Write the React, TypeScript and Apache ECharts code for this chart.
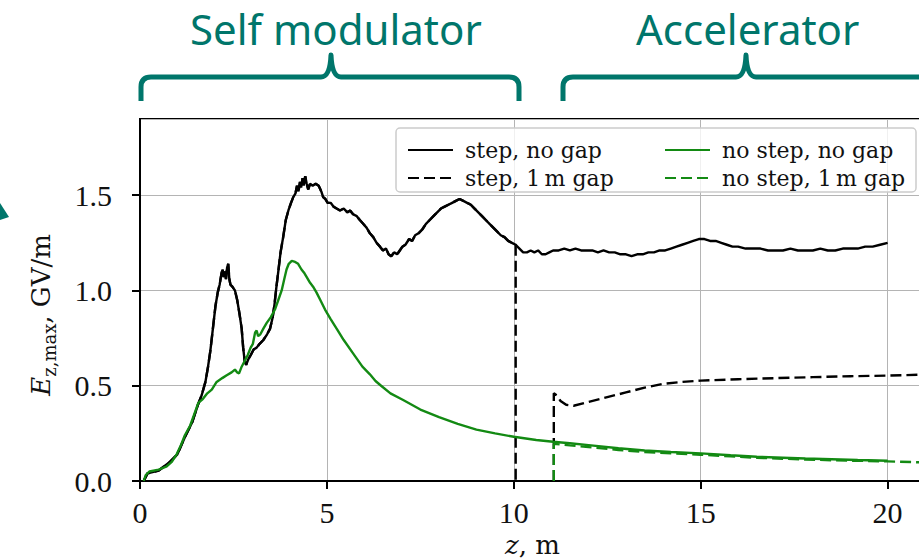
import React, { useEffect, useRef } from 'react';
import * as echarts from 'echarts';

// z [m], E [GV/m]
const stepNoGap: [number, number][] = [
  [0.1, 0], [0.2, 0.04], [0.5, 0.055], [0.8, 0.1], [1.0, 0.14], [1.2, 0.23], [1.4, 0.31], [1.55, 0.4],
  [1.65, 0.45], [1.75, 0.52], [1.82, 0.6], [1.88, 0.68], [1.95, 0.8], [2.02, 0.92], [2.08, 0.99],
  [2.13, 1.03], [2.18, 1.09], [2.21, 1.11], [2.24, 1.07], [2.27, 1.1], [2.3, 1.06], [2.33, 1.12],
  [2.36, 1.14], [2.39, 1.06], [2.42, 1.03], [2.47, 1.02], [2.54, 1.0], [2.6, 0.95], [2.66, 0.88],
  [2.72, 0.8], [2.76, 0.7], [2.8, 0.63], [2.84, 0.61], [2.9, 0.64], [2.96, 0.66], [3.04, 0.69],
  [3.12, 0.7], [3.2, 0.72], [3.3, 0.74], [3.4, 0.77], [3.48, 0.8], [3.55, 0.86], [3.6, 0.93],
  [3.65, 1.02], [3.7, 1.1], [3.76, 1.2], [3.83, 1.28], [3.9, 1.37], [3.97, 1.42], [4.04, 1.46],
  [4.1, 1.49], [4.16, 1.51], [4.2, 1.55], [4.24, 1.52], [4.28, 1.57], [4.31, 1.54], [4.35, 1.59],
  [4.38, 1.55], [4.42, 1.6], [4.46, 1.56], [4.5, 1.53], [4.55, 1.56], [4.62, 1.55], [4.7, 1.56],
  [4.78, 1.55], [4.85, 1.52], [4.9, 1.49], [4.96, 1.48], [5.02, 1.46], [5.1, 1.46], [5.18, 1.44],
  [5.26, 1.43], [5.35, 1.42], [5.45, 1.43], [5.55, 1.41], [5.62, 1.42], [5.7, 1.4], [5.8, 1.39],
  [5.88, 1.37], [5.97, 1.35], [6.06, 1.33], [6.15, 1.3], [6.24, 1.28], [6.33, 1.25], [6.42, 1.23],
  [6.5, 1.21], [6.58, 1.22], [6.65, 1.19], [6.72, 1.18], [6.8, 1.2], [6.88, 1.19], [6.95, 1.21],
  [7.02, 1.23], [7.1, 1.24], [7.2, 1.27], [7.28, 1.26], [7.36, 1.29], [7.45, 1.3], [7.55, 1.32],
  [7.65, 1.35], [7.75, 1.37], [7.85, 1.39], [7.95, 1.41], [8.05, 1.43], [8.15, 1.44], [8.25, 1.45],
  [8.35, 1.46], [8.45, 1.47], [8.55, 1.48], [8.65, 1.47], [8.75, 1.46], [8.85, 1.45], [8.95, 1.43],
  [9.05, 1.41], [9.15, 1.39], [9.25, 1.37], [9.35, 1.35], [9.45, 1.33], [9.55, 1.31], [9.65, 1.29],
  [9.75, 1.28], [9.85, 1.26], [9.95, 1.25], [10.05, 1.24], [10.15, 1.22], [10.25, 1.2], [10.35, 1.2],
  [10.45, 1.21], [10.55, 1.2], [10.65, 1.21], [10.75, 1.19], [10.85, 1.19], [10.95, 1.2], [11.05, 1.21],
  [11.2, 1.21], [11.35, 1.22], [11.5, 1.21], [11.65, 1.22], [11.8, 1.21], [11.95, 1.21], [12.1, 1.21],
  [12.25, 1.2], [12.4, 1.21], [12.55, 1.2], [12.7, 1.2], [12.85, 1.19], [13.0, 1.19], [13.15, 1.18],
  [13.3, 1.19], [13.45, 1.19], [13.6, 1.2], [13.75, 1.2], [13.9, 1.21], [14.05, 1.21], [14.2, 1.22],
  [14.35, 1.23], [14.5, 1.24], [14.65, 1.25], [14.8, 1.26], [14.95, 1.27], [15.1, 1.27], [15.25, 1.26],
  [15.4, 1.26], [15.55, 1.25], [15.7, 1.24], [15.85, 1.23], [16.0, 1.23], [16.2, 1.22], [16.4, 1.22],
  [16.6, 1.22], [16.8, 1.21], [17.0, 1.21], [17.2, 1.21], [17.4, 1.22], [17.6, 1.21], [17.8, 1.21],
  [18.0, 1.21], [18.2, 1.22], [18.4, 1.21], [18.6, 1.21], [18.8, 1.22], [19.0, 1.22], [19.2, 1.22],
  [19.4, 1.23], [19.6, 1.23], [19.8, 1.24], [20.0, 1.25],
];

// step, 1 m gap: after the drop at the gap (null = no field plotted inside the gap)
const stepGapAfter: [number, number | null][] = [
  [10.05, 0], [10.5, null], [11.07, 0], [11.07, 0.46], [11.15, 0.45], [11.25, 0.42], [11.4, 0.4], [11.6, 0.395],
  [12.0, 0.415], [12.5, 0.44], [13.0, 0.465], [13.5, 0.49], [14.0, 0.51], [14.5, 0.52], [15.0, 0.527],
  [16.0, 0.534], [17.0, 0.54], [18.0, 0.545], [19.0, 0.55], [20.0, 0.553], [20.9, 0.558],
];

const noStepNoGap: [number, number][] = [
  [0.1, 0], [0.15, 0.03], [0.25, 0.05], [0.5, 0.06], [0.7, 0.075], [0.85, 0.1], [0.98, 0.14],
  [1.1, 0.19], [1.2, 0.24], [1.34, 0.29], [1.45, 0.35], [1.56, 0.41], [1.68, 0.43], [1.8, 0.46],
  [1.92, 0.48], [2.05, 0.52], [2.2, 0.54], [2.32, 0.555], [2.45, 0.57], [2.54, 0.585], [2.6, 0.57],
  [2.65, 0.565], [2.72, 0.6], [2.8, 0.63], [2.88, 0.66], [2.96, 0.7], [3.02, 0.72], [3.08, 0.78],
  [3.12, 0.79], [3.16, 0.76], [3.22, 0.77], [3.3, 0.8], [3.39, 0.83], [3.5, 0.86], [3.61, 0.9],
  [3.7, 0.95], [3.79, 1.0], [3.86, 1.06], [3.92, 1.11], [3.98, 1.14], [4.06, 1.155], [4.15, 1.15],
  [4.23, 1.14], [4.32, 1.11], [4.4, 1.09], [4.46, 1.07], [4.55, 1.04], [4.63, 1.02], [4.72, 0.99],
  [4.81, 0.955], [4.95, 0.9], [5.1, 0.85], [5.26, 0.8], [5.45, 0.74], [5.7, 0.67], [5.95, 0.6],
  [6.15, 0.56], [6.3, 0.525], [6.45, 0.5], [6.7, 0.46], [7.04, 0.425], [7.5, 0.375], [8.0, 0.335],
  [8.5, 0.3], [9.0, 0.27], [9.5, 0.25], [10.0, 0.232], [10.6, 0.215], [11.05, 0.206], [11.5, 0.198],
  [12.0, 0.188], [12.8, 0.172], [13.5, 0.16], [14.2, 0.152], [15.0, 0.145], [15.8, 0.135],
  [16.5, 0.127], [17.2, 0.122], [17.8, 0.118], [18.5, 0.114], [19.2, 0.11], [20.0, 0.106],
];

// no step, 1 m gap: visible part after the gap (before it, it lies under the solid green line)
const noStepGapAfter: [number, number][] = [
  [11.07, 0], [11.07, 0.195], [11.5, 0.187], [12.0, 0.178], [12.8, 0.163], [13.5, 0.152],
  [14.2, 0.145], [15.0, 0.138], [15.8, 0.129], [16.5, 0.122], [17.2, 0.117], [17.8, 0.113],
  [18.5, 0.109], [19.2, 0.106], [20.0, 0.103], [20.9, 0.098],
];

const gapStart = 10.05;
const xTickLabels = ['0', '5', '10', '15', '20'];
const yTickLabels = ['0.0', '0.5', '1.0', '1.5'];
const seriesNames = ['step, no gap', 'step, 1\u2009m gap', 'no step, no gap', 'no step, 1\u2009m gap'];

const TEAL = '#00766b';
const GREEN = '#138a13';

const braceSM = 'M141,101 L141,87 Q141,77 151,77 L321,77 Q330,77 331,55 Q332,77 341,77 L509,77 Q519,77 519,87 L519,101';
const braceAcc = 'M563,101 L563,87 Q563,77 573,77 L736,77 Q745,77 746,55 Q747,77 756,77 L940,77';

export default function App() {
  const ref = useRef<HTMLDivElement>(null);
  useEffect(() => {
    if (!ref.current) return;
    echarts.graphic.registerShape('braceSM', echarts.graphic.extendPath(braceSM, {}));
    echarts.graphic.registerShape('braceAcc', echarts.graphic.extendPath(braceAcc, {}));
    const chart = echarts.init(ref.current, undefined, { renderer: 'svg' });

    const stepGap: any[] = (stepNoGap.filter((p) => p[0] <= gapStart) as any[]).concat(stepGapAfter as any);

    const tickFont = 'Liberation Serif';
    const labelFont = 'DejaVu Serif';

    const fmtX = (v: number) => (Math.abs(v % 5) < 1e-9 ? xTickLabels[Math.round(v / 5)] ?? '' : '');
    const fmtY = (v: number) => (Math.abs((v * 2) - Math.round(v * 2)) < 1e-9 ? yTickLabels[Math.round(v * 2)] ?? '' : '');

    const legendCommon = {
      orient: 'vertical', top: 134, z: 10,
      itemWidth: 45, itemHeight: 14, itemGap: 6,
      itemStyle: { opacity: 0 },
      textStyle: { fontFamily: labelFont, fontSize: 22, color: '#111', lineHeight: 22, padding: [0, 0, 0, 7] },
    };

    const option: any = {
      animation: false,
      grid: {
        left: 140, top: 119, width: 785, height: 362, show: true, borderColor: '#000', borderWidth: 2,
        backgroundColor: 'transparent', containLabel: false, outerBoundsMode: 'none',
      },
      xAxis: {
        type: 'value', min: 0, max: 21, interval: 5,
        name: '{i|z}{n|, m}', nameLocation: 'middle', nameGap: 50,
        nameTextStyle: { rich: { i: { fontFamily: labelFont, fontStyle: 'italic', fontSize: 26, color: '#111' }, n: { fontFamily: labelFont, fontSize: 26, color: '#111' } } },
        axisLine: { show: true, lineStyle: { color: '#000', width: 2 } },
        axisTick: { show: true, inside: false, length: 8, lineStyle: { color: '#000', width: 2 } },
        axisLabel: { fontFamily: tickFont, fontSize: 30, color: '#111', margin: 16, showMaxLabel: false, formatter: fmtX },
        splitLine: { show: true, lineStyle: { color: '#b4b4b4', width: 1 } },
      },
      yAxis: {
        type: 'value', min: 0, max: 1.9, interval: 0.5,
        name: '{i|E}{s|z,max}{n|, GV/m}', nameLocation: 'middle', nameGap: 82,
        nameTextStyle: {
          padding: [0, 30, 0, 0],
          rich: {
            i: { fontFamily: labelFont, fontStyle: 'italic', fontSize: 26, color: '#111', lineHeight: 34, verticalAlign: 'middle' },
            s: { fontFamily: labelFont, fontSize: 18, color: '#111', lineHeight: 20, verticalAlign: 'bottom' },
            n: { fontFamily: labelFont, fontSize: 26, color: '#111', lineHeight: 34, verticalAlign: 'middle' },
          },
        },
        axisLine: { show: true, lineStyle: { color: '#000', width: 2 } },
        axisTick: { show: true, inside: false, length: 8, lineStyle: { color: '#000', width: 2 } },
        axisLabel: { fontFamily: tickFont, fontSize: 30, color: '#111', margin: 28, showMaxLabel: false, formatter: fmtY },
        splitLine: { show: true, lineStyle: { color: '#b4b4b4', width: 1 } },
      },
      legend: [
        { ...legendCommon, data: [seriesNames[0], seriesNames[1]], left: 402 },
        { ...legendCommon, data: [seriesNames[2], seriesNames[3]], left: 659 },
      ],
      graphic: [
        { type: 'text', x: 190, y: 28, style: { text: 'Self modulator', fontFamily: 'Noto Sans', fontSize: 42, fill: TEAL, align: 'left', verticalAlign: 'middle' } },
        { type: 'text', x: 636, y: 28, style: { text: 'Accelerator', fontFamily: 'Noto Sans', fontSize: 42, fill: TEAL, align: 'left', verticalAlign: 'middle' } },
        { type: 'braceSM', style: { fill: 'none', stroke: TEAL, lineWidth: 5, lineJoin: 'round' } },
        { type: 'braceAcc', style: { fill: 'none', stroke: TEAL, lineWidth: 5, lineJoin: 'round' } },
        { type: 'polygon', shape: { points: [[0, 203], [9, 217], [0, 220]] }, style: { fill: TEAL } },
        { type: 'rect', z: 5, shape: { x: 396, y: 128, width: 520, height: 64, r: 4 }, style: { fill: 'rgba(255,255,255,0.8)', stroke: '#cccccc', lineWidth: 1.5 } },
      ],
      series: [
        { name: seriesNames[0], type: 'line', data: stepNoGap, showSymbol: false, symbol: 'none', lineStyle: { color: '#000', width: 2.4 }, itemStyle: { color: '#000' } },
        { name: seriesNames[1], type: 'line', data: stepGap, showSymbol: false, symbol: 'none', connectNulls: false, lineStyle: { color: '#000', width: 2.4, type: [11, 5] }, itemStyle: { color: '#000' } },
        { name: seriesNames[2], type: 'line', data: noStepNoGap, showSymbol: false, symbol: 'none', lineStyle: { color: GREEN, width: 2.4 }, itemStyle: { color: GREEN } },
        { name: seriesNames[3], type: 'line', data: noStepGapAfter, showSymbol: false, symbol: 'none', lineStyle: { color: GREEN, width: 2.4, type: [11, 5] }, itemStyle: { color: GREEN } },
      ],
    };
    chart.setOption(option);
    return () => chart.dispose();
  }, []);
  return <div ref={ref} style={{ position: 'fixed', left: 0, top: 0, width: 919, height: 560, overflow: 'hidden', background: '#fff' }} />;
}
